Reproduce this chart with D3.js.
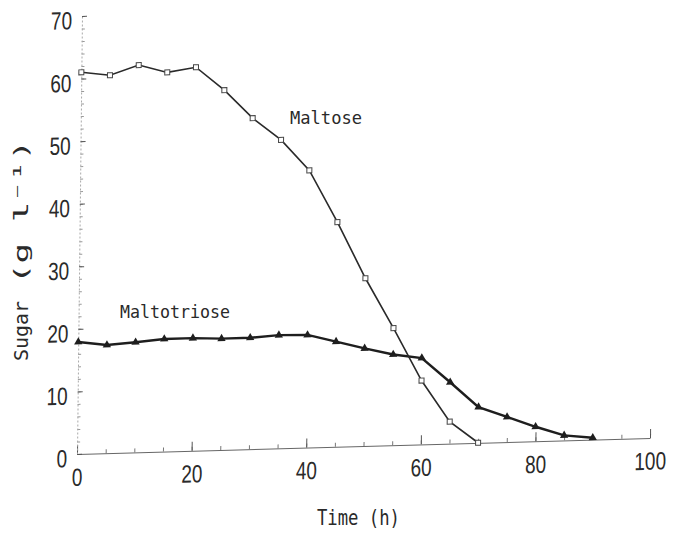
<!DOCTYPE html>
<html>
<head>
<meta charset="utf-8">
<script src="https://cdn.jsdelivr.net/npm/d3@7"></script>
<style>
body { margin: 0; background: #fff; }
svg { display: block; }
.tick text { font-family: "Liberation Sans", Arial, sans-serif; fill: #2a2a2a; }
.lbl { font-family: "DejaVu Sans Mono", "Liberation Mono", monospace; fill: #2a2a2a; }
</style>
</head>
<body>
<script>
// sampling times (h)
var maltoseTime = [0, 5, 10, 15, 20, 25, 30, 35, 40, 45, 50, 55, 60, 65, 70];
var maltoseVal = [61.0, 60.4, 61.9, 60.6, 61.3, 57.5, 52.9, 49.3, 44.3, 35.9, 26.8, 18.7, 10.2, 3.5, 0.0];

var triTime = [0, 5, 10, 15, 20, 25, 30, 35, 40, 45, 50, 55, 60, 65, 70, 75, 80, 85, 90];
var triVal = [17.9, 17.3, 17.6, 18.0, 18.0, 17.8, 17.8, 18.1, 18.0, 16.8, 15.6, 14.5, 13.8, 9.8, 5.7, 4.0, 2.3, 0.8, 0.3];

var xMajor = [0, 20, 40, 60, 80, 100];
var yMajor = [0, 10, 20, 30, 40, 50, 60, 70];

var W = 674, H = 539;
var svg = d3.select("body").append("svg")
    .attr("width", W)
    .attr("height", H);

// scales in local (unskewed) coords, origin at data (0,0)
var x = d3.scaleLinear().domain([0, 100]).range([0, 573]);
var y = d3.scaleLinear().domain([0, 70]).range([0, -438]);

// the scanned plot is slightly sheared
var plot = svg.append("g")
    .attr("transform", "matrix(1,-0.028,-0.0114,1,77,454)");

// minor ticks
plot.append("g")
    .call(d3.axisBottom(x).tickValues(d3.range(0, 101, 5)).tickSize(-4).tickFormat(""))
    .call(function(g){ g.select(".domain").remove(); })
    .selectAll("line").attr("stroke", "#777");
plot.append("g")
    .call(d3.axisLeft(y).tickValues(d3.range(0, 71, 2)).tickSize(-3).tickFormat(""))
    .call(function(g){ g.select(".domain").remove(); })
    .selectAll("line").attr("stroke", "#999");

// x axis
var xg = plot.append("g")
    .call(d3.axisBottom(x).tickValues(xMajor).tickSize(-9).tickPadding(14).tickSizeOuter(0));
xg.select(".domain").attr("stroke", "#666");
xg.selectAll(".tick line").attr("stroke", "#555");
xg.selectAll(".tick text")
    .style("font-size", "25px")
    .attr("transform", "scale(0.76,1)");

// y axis
var yg = plot.append("g")
    .call(d3.axisLeft(y).tickValues(yMajor).tickSize(-5).tickPadding(13).tickSizeOuter(0));
yg.select(".domain").attr("stroke", "#aaa").attr("stroke-dasharray", "2,2");
yg.selectAll(".tick line").attr("stroke", "#555");
yg.selectAll(".tick text")
    .style("font-size", "25px")
    .attr("dy", "0.5em")
    .attr("transform", "scale(0.76,1)");

var line = d3.line()
    .x(function(d){ return x(d[0]); })
    .y(function(d){ return y(d[1]); });

var maltose = d3.zip(maltoseTime, maltoseVal);
var tri = d3.zip(triTime, triVal);

plot.append("path")
    .datum(tri)
    .attr("d", line)
    .attr("fill", "none")
    .attr("stroke", "#1e1e1e")
    .attr("stroke-width", 2.4);

plot.append("path")
    .datum(maltose)
    .attr("d", line)
    .attr("fill", "none")
    .attr("stroke", "#2a2a2a")
    .attr("stroke-width", 1.6);

// triangle markers
plot.selectAll(".tri")
    .data(tri)
    .enter()
    .append("path")
    .attr("class", "tri")
    .attr("transform", function(d){ return "translate(" + x(d[0]) + "," + y(d[1]) + ")"; })
    .attr("d", d3.symbol().type(d3.symbolTriangle).size(30))
    .attr("fill", "#1e1e1e");

// square markers
plot.selectAll(".sq")
    .data(maltose)
    .enter()
    .append("rect")
    .attr("class", "sq")
    .attr("x", function(d){ return x(d[0]) - 2.5; })
    .attr("y", function(d){ return y(d[1]) - 2.5; })
    .attr("width", 5)
    .attr("height", 5)
    .attr("fill", "#fff")
    .attr("stroke", "#444")
    .attr("stroke-width", 1);

// labels
svg.append("text").attr("class", "lbl")
    .attr("x", 290).attr("y", 124)
    .attr("textLength", 72).attr("lengthAdjust", "spacingAndGlyphs")
    .style("font-size", "18px")
    .text("Maltose");

svg.append("text").attr("class", "lbl")
    .attr("x", 120).attr("y", 318)
    .attr("textLength", 110).attr("lengthAdjust", "spacingAndGlyphs")
    .style("font-size", "18px")
    .text("Maltotriose");

svg.append("text").attr("class", "lbl")
    .attr("x", 317).attr("y", 525)
    .attr("textLength", 83).attr("lengthAdjust", "spacingAndGlyphs")
    .style("font-size", "22px")
    .text("Time (h)");

var ylab = svg.append("g").attr("transform", "translate(28,0) rotate(-90)");
ylab.append("text").attr("class", "lbl")
    .attr("x", -361).attr("y", 0)
    .attr("textLength", 60).attr("lengthAdjust", "spacingAndGlyphs")
    .style("font-size", "20px")
    .text("Sugar");
ylab.append("text").attr("class", "lbl")
    .attr("x", -284).attr("y", 0)
    .attr("textLength", 144).attr("lengthAdjust", "spacingAndGlyphs")
    .style("font-size", "20px")
    .text("(g l⁻¹)");
</script>
</body>
</html>
